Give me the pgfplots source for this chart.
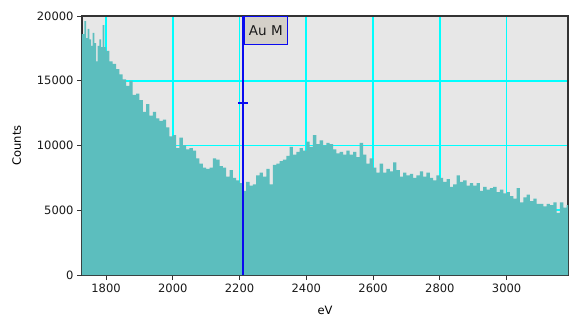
\documentclass[border=0pt]{standalone}
\usepackage{pgfplots}
\pgfplotsset{compat=1.18}
\usepackage{fontspec}
\setmainfont{DejaVu Sans}
\definecolor{specfill}{RGB}{92,190,190}
\definecolor{plotbg}{RGB}{231,231,231}
\definecolor{gridcyan}{RGB}{0,255,255}
\definecolor{markblue}{RGB}{10,10,240}
\definecolor{boxfill}{RGB}{212,208,200}
\begin{document}
\begin{tikzpicture}
\path[use as bounding box] (-82pt,-46pt) rectangle (487pt,275pt);
\begin{axis}[
  at={(0,0)}, anchor=south west,
  scale only axis, width=486pt, height=259pt,
  xmin=1728, xmax=3184, ymin=0, ymax=20000,
  xtick={1800,2000,...,3000},
  ytick={0,5000,10000,15000,20000},
  scaled ticks=false,
  /pgf/number format/1000 sep={},
  /pgf/number format/assume math mode=true,
  tick label style={font=\fontsize{11.5}{12}\selectfont, text=black!90},
  label style={font=\fontsize{11.5}{12}\selectfont},
  xlabel={eV}, ylabel={Counts},
  xlabel style={yshift=-9.5pt, inner sep=1pt},
  ylabel style={yshift=9pt},
  tick align=outside, xtick pos=bottom, ytick pos=left,
  major tick length=5pt,
  tick style={black!80, line width=0.8pt},
  axis line style={black!80, line width=1.2pt},
  axis background/.style={fill=plotbg},
  grid=major,
  major grid style={draw=gridcyan, line width=1.7pt},
  clip=true,
]
\addplot[const plot, fill=specfill, draw=none] coordinates {
(1728,18600) (1735,19600) (1740,18300) (1745,19000) (1750,18200) (1755,17700) (1760,18700) (1765,17900) (1770,16500) (1775,17700) (1780,18200) (1785,17600) (1790,19300) (1795,17600)
(1800,17300) (1810,16500) (1820,16300) (1830,15900) (1840,15500) (1850,15100) (1860,14600)
(1870,15000) (1880,13900) (1890,14000) (1900,13500) (1910,12600) (1920,13200) (1930,12300)
(1940,12600) (1950,12100) (1960,11900) (1970,12000) (1980,11400) (1990,10700) (2000,10800)
(2010,9800) (2020,10600) (2030,10000) (2040,9700) (2050,9800) (2060,9600) (2070,9000)
(2080,8600) (2090,8300) (2100,8200) (2110,8300) (2120,9000) (2130,8900) (2140,8400)
(2150,8300) (2160,7600) (2170,8100) (2180,7500) (2190,7300) (2200,7100) (2210,6500)
(2220,7200) (2230,6900) (2240,7000) (2250,7700) (2260,7900) (2270,7600) (2280,8200)
(2290,7000) (2300,8500) (2310,8600) (2320,8800) (2330,8900) (2340,9200) (2350,9900)
(2360,9300) (2370,9500) (2380,9800) (2390,9600) (2400,10300) (2410,9900) (2420,10800)
(2430,10100) (2440,10400) (2450,10000) (2460,10200) (2470,10100) (2480,9700) (2490,9400)
(2500,9500) (2510,9300) (2520,9600) (2530,9300) (2540,9500) (2550,9100) (2560,10200)
(2570,9300) (2580,8600) (2590,9000) (2600,8300) (2610,7900) (2620,8600) (2630,7900)
(2640,8200) (2650,8000) (2660,8700) (2670,8100) (2680,7600) (2690,7900) (2700,7700)
(2710,7800) (2720,7500) (2730,7700) (2740,8000) (2750,7600) (2760,7900) (2770,7500)
(2780,7300) (2790,7700) (2800,7500) (2810,7200) (2820,7400) (2830,6800) (2840,7000)
(2850,7700) (2860,7200) (2870,7300) (2880,6900) (2890,7100) (2900,6900) (2910,7100)
(2920,6500) (2930,6800) (2940,6600) (2950,6700) (2960,6800) (2970,6400) (2980,6600)
(2990,6300) (3000,6400) (3010,6100) (3020,5900) (3030,6700) (3040,5600) (3050,6000)
(3060,6200) (3070,5700) (3080,5900) (3090,5500) (3100,5500) (3110,5300) (3120,5500)
(3130,5400) (3140,5600) (3150,4800) (3160,5600) (3170,5200) (3180,5400) (3190,5400)
} \closedcycle;
\addplot[draw=markblue, line width=1.7pt, mark=none] coordinates {(2211,0) (2211,20000)};
\addplot[draw=markblue, only marks, mark=+, mark size=5pt, mark options={draw=markblue, line width=1.5pt}] coordinates {(2211,13300)};
\node[anchor=north west, draw=markblue, line width=1.5pt, fill=boxfill, inner xsep=5pt, inner ysep=2pt,
  font=\fontsize{13.5}{14}\selectfont, minimum height=28pt, text=black!90]
  at (axis cs:2211,20000) {Au M};
\end{axis}
\end{tikzpicture}
\end{document}
